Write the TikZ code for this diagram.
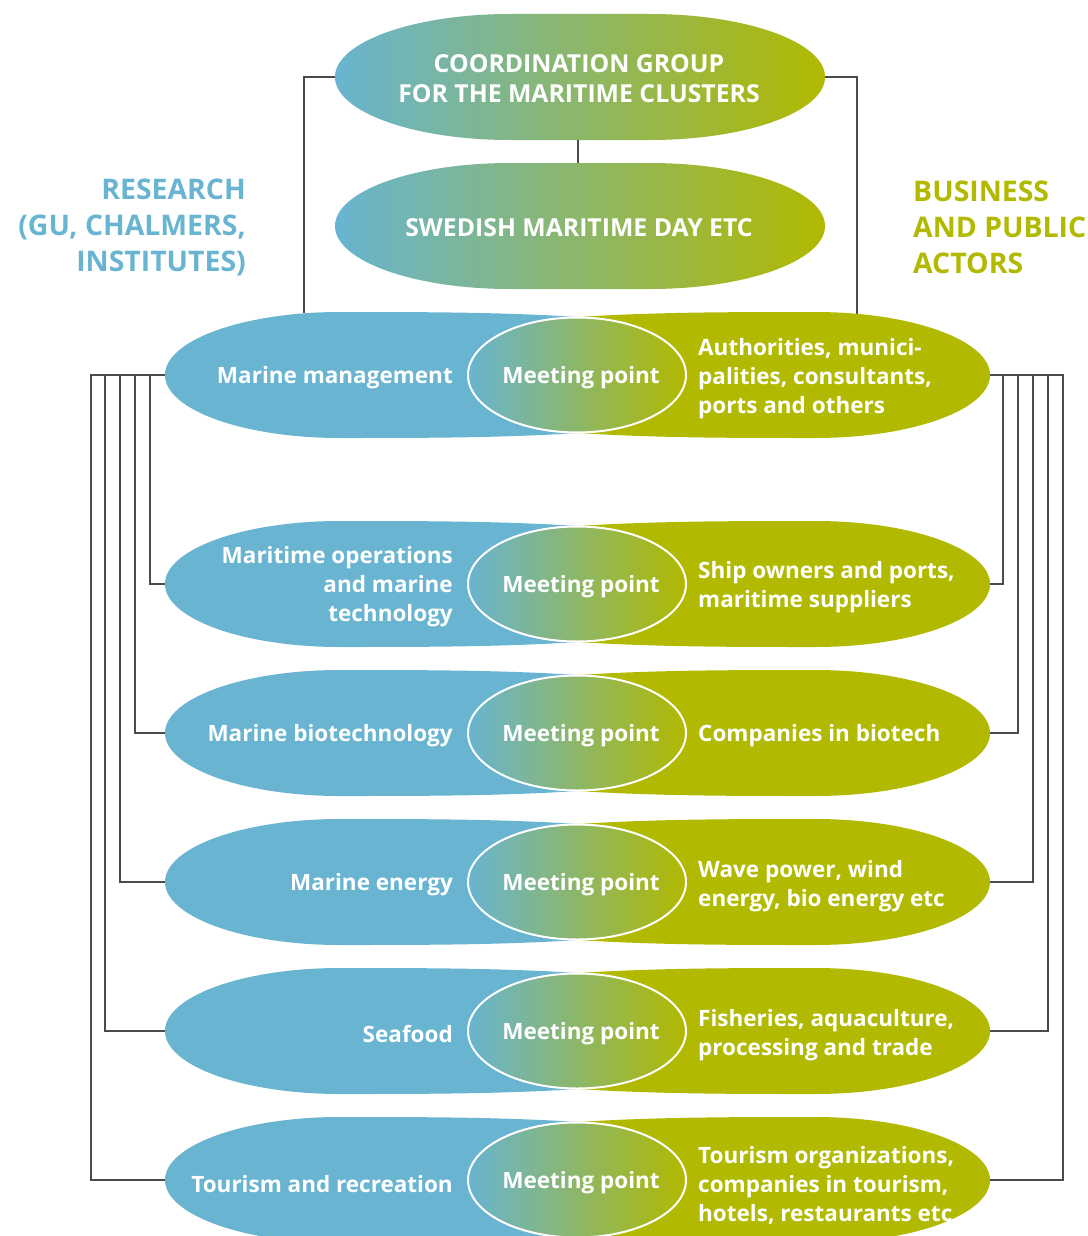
\documentclass[tikz,border=0pt]{standalone}
\usepackage{fontspec}
\setmainfont{Open Sans}
\usetikzlibrary{shapes.geometric}
\definecolor{cblue}{RGB}{104,180,209}
\definecolor{cgreen}{RGB}{177,185,0}
\definecolor{cline}{RGB}{75,75,75}
% oval path: left x, right x, centre y, half height, end radius
\newcommand\ovalpath[5]{(#1+#5,#3-#4) -- (#2-#5,#3-#4) arc[start angle=270,end angle=450,x radius=#5,y radius=#4] -- (#1+#5,#3+#4) arc[start angle=90,end angle=270,x radius=#5,y radius=#4] -- cycle}
\newcommand\rowshapes[1]{%
  \fill[cblue] (578,#1-58) .. controls (500,#1-63) and (420,#1-63) .. (340,#1-63)
     arc[start angle=270,end angle=90,x radius=175,y radius=63]
     .. controls (420,#1+63) and (500,#1+63) .. (578,#1+58) -- cycle;
  \fill[cgreen] (578,#1-58) .. controls (656,#1-63) and (736,#1-63) .. (815,#1-63)
     arc[start angle=270,end angle=450,x radius=175,y radius=63]
     .. controls (736,#1+63) and (656,#1+63) .. (578,#1+58) -- cycle;
}
\begin{document}
\begin{tikzpicture}[x=1pt,y=-1pt,
  conn/.style={draw=cline,line width=1.1pt},
  lbl/.style={text=white,font=\bfseries\fontsize{22.5}{29}\selectfont,inner sep=0pt},
  lbll/.style={lbl,anchor=east,align=right},
  lblr/.style={lbl,anchor=west,align=left},
  toptext/.style={text=white,font=\bfseries\fontsize{24.8}{30}\selectfont,inner sep=0pt,align=center},
  meet/.style={ellipse,draw=white,line width=2pt,minimum width=218pt,minimum height=115pt,inner sep=0pt,left color=cblue,right color=cgreen},
  head/.style={font=\bfseries\fontsize{28.4}{36}\selectfont,inner sep=0pt}
]
\useasboundingbox (0,0) rectangle (1087,1236);

% top ovals
\shade[left color=cblue,right color=cgreen] \ovalpath{335}{825}{77}{63}{175};
\shade[left color=cblue,right color=cgreen] \ovalpath{335}{825}{226}{63}{175};
\node[toptext] (coord) at (579,79) {COORDINATION GROUP\\FOR THE MARITIME CLUSTERS};
\node[toptext] (smd) at (579,228) {SWEDISH MARITIME DAY ETC};
\coordinate (cL) at (335,77);
\coordinate (cR) at (825,77);
\coordinate (cB) at (578,140);
\coordinate (sT) at (578,163);
\coordinate (tl) at (304,313);
\coordinate (tr) at (857,314);
\draw[conn] (cB) -- (sT);
\draw[conn] (cL) -| (tl);
\draw[conn] (cR) -| (tr);

% headings
\node[head,text=cblue,anchor=east,align=right] (res) at (246,227) {RESEARCH\\(GU, CHALMERS,\\INSTITUTES)};
\node[head,text=cgreen,anchor=west,align=left] (bus) at (913,227) {BUSINESS\\AND PUBLIC\\ACTORS};

% rows
\foreach \i/\y in {1/375,2/584,3/733,4/882,5/1031,6/1180}{
  \rowshapes{\y}
  \coordinate (b\i) at (165,\y);
  \coordinate (g\i) at (990,\y);
  \node[meet] (m\i) at (577,\y) {};
  \node[lbl] (mt\i) at (581,\y+3) {Meeting point};
}

\node[lbll] (l1) at (453,378) {Marine management};
\node[lblr] (r1) at (698,379) {Authorities, munici-\\palities, consultants,\\ports and others};
\node[lbll] (l2) at (453,587) {Maritime operations\\and marine\\technology};
\node[lblr] (r2) at (698,587) {Ship owners and ports,\\maritime suppliers};
\node[lbll] (l3) at (453,736) {Marine biotechnology};
\node[lblr] (r3) at (698,736) {Companies in biotech};
\node[lbll] (l4) at (453,885) {Marine energy};
\node[lblr] (r4) at (698,886) {Wave power, wind\\energy, bio energy etc};
\node[lbll] (l5) at (453,1034) {Seafood};
\node[lblr] (r5) at (698,1035) {Fisheries, aquaculture,\\processing and trade};
\node[lbll] (l6) at (453,1184) {Tourism and recreation};
\node[lblr] (r6) at (698,1185) {Tourism organizations,\\companies in tourism,\\hotels, restaurants etc};

% left connectors
\foreach \i/\x in {2/150,3/135,4/120,5/105,6/91}{
  \draw[conn] (b\i) -| (\x,375) -- (b1);
}
% right connectors
\foreach \i/\x in {2/1003,3/1018,4/1033,5/1048,6/1063}{
  \draw[conn] (g\i) -| (\x,375) -- (g1);
}
\end{tikzpicture}
\end{document}
